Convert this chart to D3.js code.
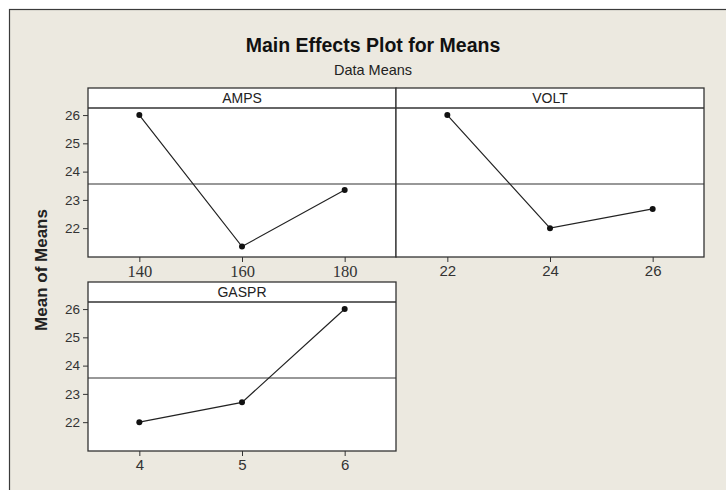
<!DOCTYPE html>
<html>
<head>
<meta charset="utf-8">
<script src="https://cdn.jsdelivr.net/npm/d3@7"></script>
<style>
  body { margin: 0; background: #fff; }
  svg { display: block; }
</style>
</head>
<body>
<div id="chart"></div>
<script>
// data
const factors = ["AMPS", "VOLT", "GASPR"];
const ampsLevels = [140, 160, 180];
const ampsMeans = [26.0, 21.35, 23.35];
const voltLevels = [22, 24, 26];
const voltMeans = [26.0, 22.0, 22.68];
const gasprLevels = [4, 5, 6];
const gasprMeans = [22.0, 22.7, 26.0];
const grandMean = 23.56;
const yTicks = [22, 23, 24, 25, 26];

const width = 726, height = 490;
const bg = "#ece9e0";
const ink = "#222";

const svg = d3.select("#chart").append("svg")
  .attr("width", width)
  .attr("height", height);

// graph window
svg.append("rect")
  .attr("x", 9.5).attr("y", 9.5)
  .attr("width", 800).attr("height", 600)
  .attr("fill", bg)
  .attr("stroke", "#3a3a3a")
  .attr("stroke-width", 1.2);

// titles
svg.append("text")
  .attr("x", 373).attr("y", 52)
  .attr("text-anchor", "middle")
  .attr("font-family", "Liberation Sans, Arial, sans-serif")
  .attr("font-weight", "bold")
  .attr("font-size", 19.5)
  .attr("fill", "#111")
  .text("Main Effects Plot for Means");

svg.append("text")
  .attr("x", 373).attr("y", 75)
  .attr("text-anchor", "middle")
  .attr("font-family", "Liberation Sans, Arial, sans-serif")
  .attr("font-size", 14.5)
  .attr("fill", "#222")
  .text("Data Means");

// y axis title
svg.append("text")
  .attr("transform", "translate(47,270) rotate(-90)")
  .attr("text-anchor", "middle")
  .attr("font-family", "Liberation Sans, Arial, sans-serif")
  .attr("font-weight", "bold")
  .attr("font-size", 17)
  .attr("fill", "#222")
  .text("Mean of Means");

const panelW = 308, headerH = 20, dataH = 149;
const panels = [
  { name: factors[0], levels: ampsLevels, means: ampsMeans, domain: [130, 190], x: 88, y: 88, yAxis: true, serif: true },
  { name: factors[1], levels: voltLevels, means: voltMeans, domain: [21, 27], x: 396, y: 88, yAxis: false },
  { name: factors[2], levels: gasprLevels, means: gasprMeans, domain: [3.5, 6.5], x: 88, y: 282, yAxis: true }
];

panels.forEach((p) => {
  const g = svg.append("g").attr("transform", `translate(${p.x},${p.y})`);
  const top = headerH, bottom = headerH + dataH;

  const x = d3.scaleLinear().domain(p.domain).range([0, panelW]);
  const y = d3.scaleLinear().domain([20.98, 26.25]).range([bottom, top]);

  g.append("rect")
    .attr("width", panelW).attr("height", bottom)
    .attr("fill", "#fff");

  // header
  g.append("text")
    .attr("x", panelW / 2).attr("y", 15)
    .attr("text-anchor", "middle")
    .attr("font-family", "Liberation Sans, Arial, sans-serif")
    .attr("font-size", 14)
    .attr("fill", "#222")
    .text(p.name);

  // reference line at grand mean
  g.append("line")
    .attr("x1", 0).attr("x2", panelW)
    .attr("y1", y(grandMean)).attr("y2", y(grandMean))
    .attr("stroke", "#333").attr("stroke-width", 1.1);

  // x axis
  const xAxis = g.append("g")
    .attr("transform", `translate(0,${bottom})`)
    .call(d3.axisBottom(x).tickValues(p.levels).tickFormat(d3.format("d"))
      .tickSize(5).tickSizeOuter(0).tickPadding(3));
  xAxis.select(".domain").remove();
  xAxis.selectAll("line").attr("stroke", "#333");
  xAxis.selectAll("text")
    .attr("font-family", p.serif ? "Liberation Serif, Times New Roman, serif" : "Liberation Sans, Arial, sans-serif")
    .attr("font-size", p.serif ? 16.5 : 15)
    .attr("fill", "#333");

  if (p.yAxis) {
    const yAxis = g.append("g")
      .call(d3.axisLeft(y).tickValues(yTicks).tickFormat(d3.format("d"))
        .tickSize(5).tickPadding(3));
    yAxis.select(".domain").remove();
    yAxis.selectAll("line").attr("stroke", "#333");
    yAxis.selectAll("text")
      .attr("font-family", "Liberation Sans, Arial, sans-serif")
      .attr("font-size", 13.5)
      .attr("fill", "#333");
  }

  const pts = p.levels.map((lv, i) => ({ lv, m: p.means[i] }));

  g.append("path")
    .datum(pts)
    .attr("fill", "none")
    .attr("stroke", ink)
    .attr("stroke-width", 1.2)
    .attr("d", d3.line().x((d) => x(d.lv)).y((d) => y(d.m)));

  g.selectAll("circle.pt")
    .data(pts)
    .join("circle")
    .attr("class", "pt")
    .attr("cx", (d) => x(d.lv))
    .attr("cy", (d) => y(d.m))
    .attr("r", 3)
    .attr("fill", "#111");

  // frame and header separator
  g.append("rect")
    .attr("width", panelW).attr("height", bottom)
    .attr("fill", "none")
    .attr("stroke", "#333")
    .attr("stroke-width", 1.3);
  g.append("line")
    .attr("x1", 0).attr("x2", panelW)
    .attr("y1", top).attr("y2", top)
    .attr("stroke", "#333")
    .attr("stroke-width", 1.3);
});
</script>
</body>
</html>
